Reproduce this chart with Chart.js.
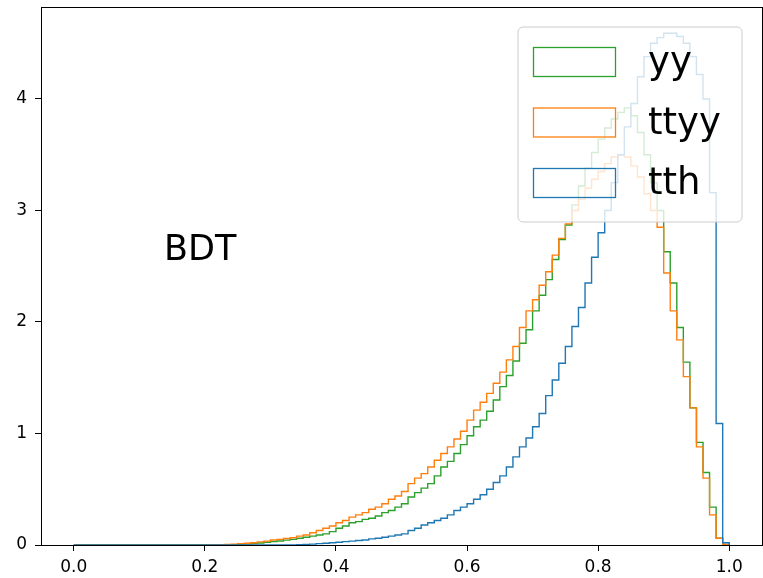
<!DOCTYPE html>
<html lang="en">
<head>
<meta charset="utf-8"/>
<title>BDT score distributions</title>
<script src="https://cdn.jsdelivr.net/npm/chart.js@4.4.3/dist/chart.umd.min.js"></script>
<style>
  html, body { margin: 0; padding: 0; background: #fff; }
  #wrap { width: 763px; height: 578px; }
</style>
</head>
<body>
<div id="wrap"><canvas id="bdtChart" width="763" height="578"></canvas></div>
<script>
  // 100 bins of width 0.01 on [0, 1]; values are the bin heights (density)
  const binWidth = 0.01;

  const yyValues = [
    0, 0, 0, 0, 0, 0, 0, 0, 0, 0,
    0, 0, 0, 0, 0, 0, 0, 0, 0, 0,
    0, 0, 0, 0, 0.002, 0.005, 0.008, 0.012, 0.018, 0.024,
    0.03, 0.036, 0.044, 0.05, 0.06, 0.07, 0.08, 0.09, 0.1, 0.12,
    0.15, 0.17, 0.2, 0.21, 0.23, 0.24, 0.26, 0.29, 0.31, 0.34,
    0.37, 0.43, 0.47, 0.51, 0.55, 0.62, 0.7, 0.75, 0.82, 0.9,
    0.98, 1.06, 1.12, 1.2, 1.3, 1.42, 1.52, 1.65, 1.81, 1.93,
    2.1, 2.24, 2.38, 2.56, 2.74, 2.87, 3.05, 3.22, 3.38, 3.52,
    3.64, 3.74, 3.82, 3.88, 3.92, 3.85, 3.7, 3.5, 3.25, 3.0,
    2.63, 2.35, 1.95, 1.64, 1.23, 0.92, 0.65, 0.34, 0.06, 0.005
  ];

  const ttyyValues = [
    0, 0, 0, 0, 0, 0, 0, 0, 0, 0,
    0, 0, 0, 0, 0, 0, 0, 0, 0, 0,
    0, 0, 0.003, 0.005, 0.008, 0.012, 0.016, 0.02, 0.028, 0.035,
    0.045, 0.05, 0.058, 0.065, 0.08, 0.09, 0.11, 0.13, 0.15, 0.17,
    0.2, 0.22, 0.25, 0.27, 0.29, 0.32, 0.34, 0.37, 0.41, 0.44,
    0.48, 0.55, 0.6, 0.64, 0.7, 0.76, 0.82, 0.88, 0.95, 1.02,
    1.12, 1.21, 1.28, 1.36, 1.45, 1.55, 1.66, 1.78, 1.95, 2.1,
    2.2, 2.33, 2.45, 2.6, 2.75, 2.88, 3.0, 3.1, 3.2, 3.28,
    3.35, 3.42, 3.48, 3.5, 3.48, 3.4, 3.3, 3.15, 3.0, 2.85,
    2.44, 2.1, 1.84, 1.51, 1.23, 0.88, 0.6, 0.27, 0.06, 0.005
  ];

  const tthValues = [
    0, 0, 0, 0, 0, 0, 0, 0, 0, 0,
    0, 0, 0, 0, 0, 0, 0, 0, 0, 0,
    0, 0, 0, 0, 0, 0, 0, 0, 0, 0,
    0, 0, 0, 0, 0.002, 0.005, 0.008, 0.012, 0.016, 0.02,
    0.025, 0.03, 0.035, 0.04, 0.045, 0.055, 0.06, 0.07, 0.08, 0.09,
    0.1, 0.13, 0.15, 0.18, 0.2, 0.22, 0.24, 0.27, 0.31, 0.34,
    0.37, 0.41, 0.45, 0.5, 0.56, 0.62, 0.7, 0.79, 0.88, 0.96,
    1.06, 1.18, 1.34, 1.48, 1.63, 1.78, 1.96, 2.13, 2.35, 2.58,
    2.8, 3.0, 3.25, 3.5, 3.75, 3.96, 4.2, 4.38, 4.5, 4.55,
    4.59, 4.59, 4.56, 4.5, 4.38, 4.22, 4.0, 3.16, 1.09, 0.02
  ];

  const xTicks = [0.0, 0.2, 0.4, 0.6, 0.8, 1.0];
  const yTicks = [0, 1, 2, 3, 4];

  const seriesNames = ['yy', 'ttyy', 'tth'];
  const seriesColors = ['#2ca02c', '#ff7f0e', '#1f77b4'];

  // outline of a step histogram: baseline, one point per bin edge, back to baseline
  function stepPoints(values) {
    const pts = [{ x: 0, y: 0 }];
    values.forEach((v, i) => pts.push({ x: i * binWidth, y: v }));
    pts.push({ x: values.length * binWidth, y: 0 });
    return pts;
  }

  const seriesValues = [yyValues, ttyyValues, tthValues];

  // matplotlib-like frame, text label and legend
  const decorPlugin = {
    id: 'decor',
    afterDraw(chart) {
      const ctx = chart.ctx;
      const a = chart.chartArea;
      ctx.save();
      ctx.strokeStyle = '#000';
      ctx.lineWidth = 1;
      ctx.strokeRect(Math.round(a.left) + 0.5, Math.round(a.top) + 0.5,
        Math.round(a.right - a.left), Math.round(a.bottom - a.top));

      ctx.fillStyle = '#000';
      ctx.font = '35px "DejaVu Sans", sans-serif';
      ctx.textBaseline = 'alphabetic';
      ctx.textAlign = 'left';
      ctx.fillText('BDT', 164, 260);

      // legend box
      const lx = 518, ly = 27, lw = 224, lh = 195, r = 5;
      ctx.beginPath();
      ctx.moveTo(lx + r, ly);
      ctx.arcTo(lx + lw, ly, lx + lw, ly + lh, r);
      ctx.arcTo(lx + lw, ly + lh, lx, ly + lh, r);
      ctx.arcTo(lx, ly + lh, lx, ly, r);
      ctx.arcTo(lx, ly, lx + lw, ly, r);
      ctx.closePath();
      ctx.fillStyle = 'rgba(255,255,255,0.8)';
      ctx.fill();
      ctx.strokeStyle = '#cccccc';
      ctx.lineWidth = 1;
      ctx.stroke();

      ctx.font = '37px "DejaVu Sans", sans-serif';
      ctx.textBaseline = 'alphabetic';
      seriesNames.forEach((name, i) => {
        const cy = 62 + i * 60.5;
        ctx.strokeStyle = seriesColors[i];
        ctx.lineWidth = 1.3;
        ctx.strokeRect(533.5, cy - 14.5, 82, 29);
        ctx.fillStyle = '#000';
        ctx.fillText(name, 648, 73 + i * 60.5);
      });
      ctx.restore();
    }
  };

  const tickFont = { family: '"DejaVu Sans", sans-serif', size: 17 };

  new Chart(document.getElementById('bdtChart'), {
    type: 'line',
    data: {
      datasets: seriesNames.map((name, i) => ({
        label: name,
        data: stepPoints(seriesValues[i]),
        borderColor: seriesColors[i],
        backgroundColor: seriesColors[i],
        borderWidth: 1.4,
        pointRadius: 0,
        fill: false,
        stepped: 'before',
        order: 3 - i,
      })),
    },
    options: {
      responsive: false,
      animation: false,
      layout: { padding: { top: 7, right: 1, left: 0, bottom: 0 } },
      plugins: {
        legend: { display: false },
        tooltip: { enabled: false },
      },
      scales: {
        x: {
          type: 'linear',
          min: -0.05,
          max: 1.05,
          afterBuildTicks: (scale) => { scale.ticks = xTicks.map(v => ({ value: v })); },
          afterFit: (scale) => {
            scale.height = 33;
            scale.paddingLeft = 0;
            scale.paddingRight = 0;
          },
          ticks: {
            color: '#000',
            font: tickFont,
            padding: 6,
            maxRotation: 0,
            callback: (v) => Number(v).toFixed(1),
          },
          grid: { drawOnChartArea: false, drawTicks: true, tickLength: 6, color: '#000' },
          border: { display: true, color: '#000', width: 1 },
        },
        y: {
          type: 'linear',
          min: 0,
          max: 4.825,
          afterBuildTicks: (scale) => { scale.ticks = yTicks.map(v => ({ value: v })); },
          afterFit: (scale) => {
            scale.width = 41;
            scale.paddingTop = 0;
            scale.paddingBottom = 0;
          },
          ticks: {
            color: '#000',
            font: tickFont,
            padding: 8,
            callback: (v) => String(v),
          },
          grid: { drawOnChartArea: false, drawTicks: true, tickLength: 6, color: '#000' },
          border: { display: true, color: '#000', width: 1 },
        },
      },
    },
    plugins: [decorPlugin],
  });
</script>
</body>
</html>
